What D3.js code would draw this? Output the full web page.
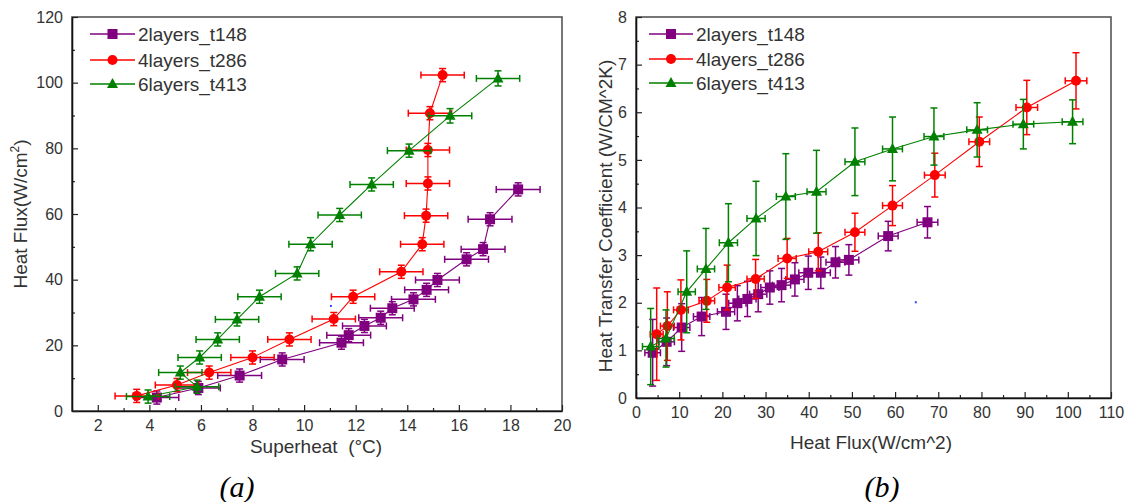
<!DOCTYPE html>
<html><head><meta charset="utf-8">
<script src="https://cdn.jsdelivr.net/npm/d3@7"></script>
<style>
body{margin:0;background:#fff;}
svg{display:block;font-family:Arial,"Liberation Sans",sans-serif;}
</style></head><body>
<svg id="c" width="1130" height="502"></svg>
<script>
// ---------- Data: chart (a) Superheat vs Heat Flux ----------
const seriesNames = ["2layers_t148", "4layers_t286", "6layers_t413"];
const seriesColors = ["#800080", "#ff0000", "#008000"];
const seriesMarkers = ["square", "circle", "triangle"];

const a2x = [4.29, 5.9, 7.5, 9.15, 11.45, 11.73, 12.34, 12.97, 13.42, 14.24, 14.75, 15.17, 16.3, 16.94, 17.21, 18.3];
const a2y = [4.1, 7.0, 10.8, 15.7, 20.8, 23.1, 25.9, 28.4, 31.3, 34.0, 36.9, 39.9, 46.2, 49.3, 58.4, 67.5];
const a2xe = [0.85, 0.85, 0.85, 0.85, 0.85, 0.85, 0.85, 0.85, 0.85, 0.85, 0.85, 0.85, 0.85, 0.85, 0.85, 0.85];
const a2ye = [2, 2, 2, 2, 2, 2, 2, 2, 2, 2, 2, 2, 2, 2, 2, 2];

const a4x = [3.51, 5.07, 6.32, 8.0, 9.43, 11.15, 11.9, 13.77, 14.58, 14.73, 14.8, 14.8, 14.88, 15.37];
const a4y = [4.6, 7.9, 11.7, 16.3, 21.8, 28.0, 34.8, 42.4, 50.8, 59.5, 69.3, 79.5, 90.7, 102.3];
const a4xe = [0.84, 0.84, 0.84, 0.84, 0.84, 0.84, 0.84, 0.84, 0.84, 0.84, 0.84, 0.84, 0.84, 0.84];
const a4ye = [2, 2, 2, 2, 2, 2, 2, 2, 2, 2, 2, 2, 2, 2];

const a6x = [3.95, 5.85, 5.2, 5.95, 6.65, 7.4, 8.27, 9.73, 10.25, 11.38, 12.62, 14.07, 15.66, 17.52];
const a6y = [4.4, 7.4, 11.7, 16.3, 21.8, 27.9, 34.8, 41.9, 50.8, 59.7, 69.0, 79.3, 89.9, 101.3];
const a6xe = [0.84, 0.84, 0.84, 0.84, 0.84, 0.84, 0.84, 0.84, 0.84, 0.84, 0.84, 0.84, 0.84, 0.84];
const a6ye = [2, 2, 2, 2, 2, 2, 2, 2, 2, 2, 2, 2, 2.2, 2.3];

const aStrayX = [11.04];
const aStrayY = [32.0];

const aXTicks = [2, 4, 6, 8, 10, 12, 14, 16, 18, 20];
const aXMinor = [3, 5, 7, 9, 11, 13, 15, 17, 19];
const aYTicks = [0, 20, 40, 60, 80, 100, 120];
const aYMinor = [10, 30, 50, 70, 90, 110];

// ---------- Data: chart (b) Heat Flux vs HTC ----------
const b2x = [3.86, 7.1, 10.58, 15.2, 20.85, 23.47, 25.8, 28.3, 31.0, 33.7, 36.8, 39.9, 42.8, 46.2, 49.3, 58.4, 67.5];
const b2y = [0.95, 1.18, 1.48, 1.71, 1.81, 1.99, 2.08, 2.18, 2.32, 2.37, 2.49, 2.63, 2.63, 2.85, 2.90, 3.40, 3.69];
const b2xe = [1.8, 1.8, 1.9, 1.9, 2.0, 2.0, 2.0, 2.0, 2.1, 2.1, 2.1, 2.2, 2.2, 2.2, 2.3, 2.3, 2.4];
const b2ye = [0.7, 0.5, 0.5, 0.4, 0.37, 0.37, 0.37, 0.37, 0.35, 0.35, 0.35, 0.35, 0.33, 0.33, 0.32, 0.31, 0.33];

const b4x = [4.79, 7.26, 10.4, 16.4, 21.1, 27.7, 35.0, 42.2, 50.7, 59.4, 69.2, 79.5, 90.5, 101.9];
const b4y = [1.34, 1.51, 1.85, 2.04, 2.32, 2.50, 2.93, 3.07, 3.48, 4.04, 4.68, 5.38, 6.10, 6.66];
const b4xe = [1.5, 1.6, 1.7, 1.8, 1.9, 2.0, 2.1, 2.2, 2.3, 2.3, 2.4, 2.4, 2.5, 2.5];
const b4ye = [0.97, 0.72, 0.63, 0.45, 0.47, 0.41, 0.42, 0.40, 0.40, 0.42, 0.46, 0.52, 0.57, 0.59];

const b6x = [3.4, 6.95, 11.74, 16.2, 21.4, 27.8, 34.7, 41.8, 50.7, 59.4, 69.0, 79.0, 89.7, 101.1];
const b6y = [1.08, 1.25, 2.23, 2.71, 3.26, 3.77, 4.23, 4.33, 4.96, 5.23, 5.49, 5.63, 5.75, 5.80];
const b6xe = [1.9, 1.9, 2.0, 2.0, 2.1, 2.1, 2.2, 2.2, 2.3, 2.3, 2.3, 2.4, 2.4, 2.4];
const b6ye = [0.8, 0.6, 0.86, 0.85, 0.82, 0.78, 0.9, 0.87, 0.71, 0.67, 0.60, 0.57, 0.52, 0.46];

const bStrayX = [64.8];
const bStrayY = [2.01];

const bXTicks = [0, 10, 20, 30, 40, 50, 60, 70, 80, 90, 100, 110];
const bXMinor = [5, 15, 25, 35, 45, 55, 65, 75, 85, 95, 105];
const bYTicks = [0, 1, 2, 3, 4, 5, 6, 7, 8];
const bYMinor = [0.5, 1.5, 2.5, 3.5, 4.5, 5.5, 6.5, 7.5];

// ---------- Drawing ----------
const svg = d3.select("#c");

function zip(xs, ys, xe, ye) { return xs.map((x, i) => ({x, y: ys[i], xe: xe[i], ye: ye[i]})); }

function drawChart(cfg) {
  const {x, y} = cfg;
  const g = svg.append("g");
  const [x0, x1] = x.range(), [y0, y1] = y.range();

  // frame (top/right)
  g.append("rect").attr("x", x0).attr("y", y1).attr("width", x1 - x0).attr("height", y0 - y1)
    .attr("fill", "none").attr("stroke", "#555").attr("stroke-width", 1.6);

  const tickStyle = sel => {
    sel.select(".domain").attr("stroke", "#111").attr("stroke-width", 1.6);
    sel.selectAll(".tick line").attr("stroke", "#222").attr("stroke-width", 1.2);
    sel.selectAll(".tick text").attr("fill", "#333").attr("font-size", 16);
  };

  // minor ticks
  g.append("g").attr("transform", `translate(0,${y0})`)
    .call(d3.axisBottom(x).tickValues(cfg.xMinor).tickSizeInner(-3).tickSizeOuter(0).tickFormat(""))
    .call(tickStyle).call(s => s.select(".domain").remove());
  g.append("g").attr("transform", `translate(${x0},0)`)
    .call(d3.axisLeft(y).tickValues(cfg.yMinor).tickSizeInner(-3).tickSizeOuter(0).tickFormat(""))
    .call(tickStyle).call(s => s.select(".domain").remove());
  // major axes
  g.append("g").attr("transform", `translate(0,${y0})`)
    .call(d3.axisBottom(x).tickValues(cfg.xTicks).tickSizeInner(-6).tickSizeOuter(0).tickPadding(9).tickFormat(d3.format("d")))
    .call(tickStyle);
  g.append("g").attr("transform", `translate(${x0},0)`)
    .call(d3.axisLeft(y).tickValues(cfg.yTicks).tickSizeInner(-6).tickSizeOuter(0).tickPadding(9).tickFormat(d3.format("d")))
    .call(tickStyle);

  // axis titles
  g.append("text").attr("x", cfg.xTitlePos[0]).attr("y", cfg.xTitlePos[1])
    .attr("text-anchor", "middle").attr("font-size", 19).attr("fill", "#333").attr("xml:space", "preserve")
    .text(cfg.xTitle);
  const yt = g.append("text").attr("transform", `translate(${cfg.yTitlePos[0]},${cfg.yTitlePos[1]}) rotate(-90)`)
    .attr("text-anchor", "middle").attr("font-size", 19).attr("fill", "#333");
  cfg.yTitleFn(yt);

  // series
  cfg.series.forEach((s, si) => {
    const col = seriesColors[si];
    const data = s;
    const sg = g.append("g");
    sg.append("path").datum(data)
      .attr("d", d3.line().x(d => x(d.x)).y(d => y(d.y)))
      .attr("fill", "none").attr("stroke", col).attr("stroke-width", 1.1);
    const eb = sg.append("g").attr("stroke", col).attr("stroke-width", 1.5).attr("fill", "none");
    const cap = 3.5;
    data.forEach(d => {
      const cx = x(d.x), cy = y(d.y);
      const xl = x(d.x - d.xe), xr = x(d.x + d.xe);
      const yt2 = y(d.y + d.ye), yb = y(d.y - d.ye);
      eb.append("line").attr("x1", xl).attr("x2", xr).attr("y1", cy).attr("y2", cy);
      eb.append("line").attr("x1", xl).attr("x2", xl).attr("y1", cy - cap).attr("y2", cy + cap);
      eb.append("line").attr("x1", xr).attr("x2", xr).attr("y1", cy - cap).attr("y2", cy + cap);
      eb.append("line").attr("x1", cx).attr("x2", cx).attr("y1", yt2).attr("y2", yb);
      eb.append("line").attr("x1", cx - cap).attr("x2", cx + cap).attr("y1", yt2).attr("y2", yt2);
      eb.append("line").attr("x1", cx - cap).attr("x2", cx + cap).attr("y1", yb).attr("y2", yb);
    });
    data.forEach(d => drawMarker(sg, seriesMarkers[si], x(d.x), y(d.y), col, 1));
  });

  // stray points
  cfg.stray.forEach(d => {
    g.append("rect").attr("x", x(d.x) - 1).attr("y", y(d.y) - 1).attr("width", 2).attr("height", 2).attr("fill", "#3344ff");
  });

  // legend
  seriesNames.forEach((name, i) => {
    const ly = cfg.legend.y[i];
    g.append("line").attr("x1", cfg.legend.x0).attr("x2", cfg.legend.x1).attr("y1", ly).attr("y2", ly)
      .attr("stroke", seriesColors[i]).attr("stroke-width", 1.3);
    drawMarker(g, seriesMarkers[i], (cfg.legend.x0 + cfg.legend.x1) / 2, ly, seriesColors[i], 1);
    g.append("text").attr("x", cfg.legend.x1 + 3).attr("y", ly).attr("dy", "0.35em")
      .attr("font-size", 19).attr("fill", "#333").text(name);
  });
}

function drawMarker(g, type, cx, cy, col, s) {
  if (type === "square") {
    g.append("rect").attr("x", cx - 5).attr("y", cy - 5).attr("width", 10).attr("height", 10).attr("fill", col);
  } else if (type === "circle") {
    g.append("circle").attr("cx", cx).attr("cy", cy).attr("r", 5).attr("fill", col);
  } else {
    g.append("path").attr("d", `M${cx},${cy - 6}L${cx + 5.5},${cy + 4}L${cx - 5.5},${cy + 4}Z`).attr("fill", col);
  }
}

const ax = d3.scaleLinear().domain([1, 20]).range([72, 562]);
const ay = d3.scaleLinear().domain([0, 120]).range([411, 17]);
drawChart({
  x: ax, y: ay, xTicks: aXTicks, xMinor: aXMinor, yTicks: aYTicks, yMinor: aYMinor,
  xTitle: "Superheat  (°C)", xTitlePos: [316, 453],
  yTitlePos: [27, 214],
  yTitleFn: t => { t.append("tspan").text("Heat Flux(W/cm"); t.append("tspan").attr("font-size", 12).attr("dy", -8).text("2"); t.append("tspan").attr("dy", 8).text(")"); },
  series: [zip(a2x, a2y, a2xe, a2ye), zip(a4x, a4y, a4xe, a4ye), zip(a6x, a6y, a6xe, a6ye)],
  stray: aStrayX.map((v, i) => ({x: v, y: aStrayY[i]})),
  legend: {x0: 90, x1: 135, y: [34, 60, 84]}
});

const bx = d3.scaleLinear().domain([0, 110]).range([636, 1111]);
const by = d3.scaleLinear().domain([0, 8]).range([398, 17]);
drawChart({
  x: bx, y: by, xTicks: bXTicks, xMinor: bXMinor, yTicks: bYTicks, yMinor: bYMinor,
  xTitle: "Heat Flux(W/cm^2)", xTitlePos: [871, 449],
  yTitlePos: [612, 216],
  yTitleFn: t => t.text("Heat Transfer Coefficient (W/CM^2K)"),
  series: [zip(b2x, b2y, b2xe, b2ye), zip(b4x, b4y, b4xe, b4ye), zip(b6x, b6y, b6xe, b6ye)],
  stray: bStrayX.map((v, i) => ({x: v, y: bStrayY[i]})),
  legend: {x0: 649, x1: 693, y: [34, 59, 83]}
});

// captions
svg.append("text").attr("x", 237).attr("y", 497).attr("text-anchor", "middle")
  .attr("font-family", "'Liberation Serif','DejaVu Serif',serif").attr("font-style", "italic").attr("font-size", 30).text("(a)");
svg.append("text").attr("x", 882).attr("y", 497).attr("text-anchor", "middle")
  .attr("font-family", "'Liberation Serif','DejaVu Serif',serif").attr("font-style", "italic").attr("font-size", 30).text("(b)");
</script>
</body></html>
